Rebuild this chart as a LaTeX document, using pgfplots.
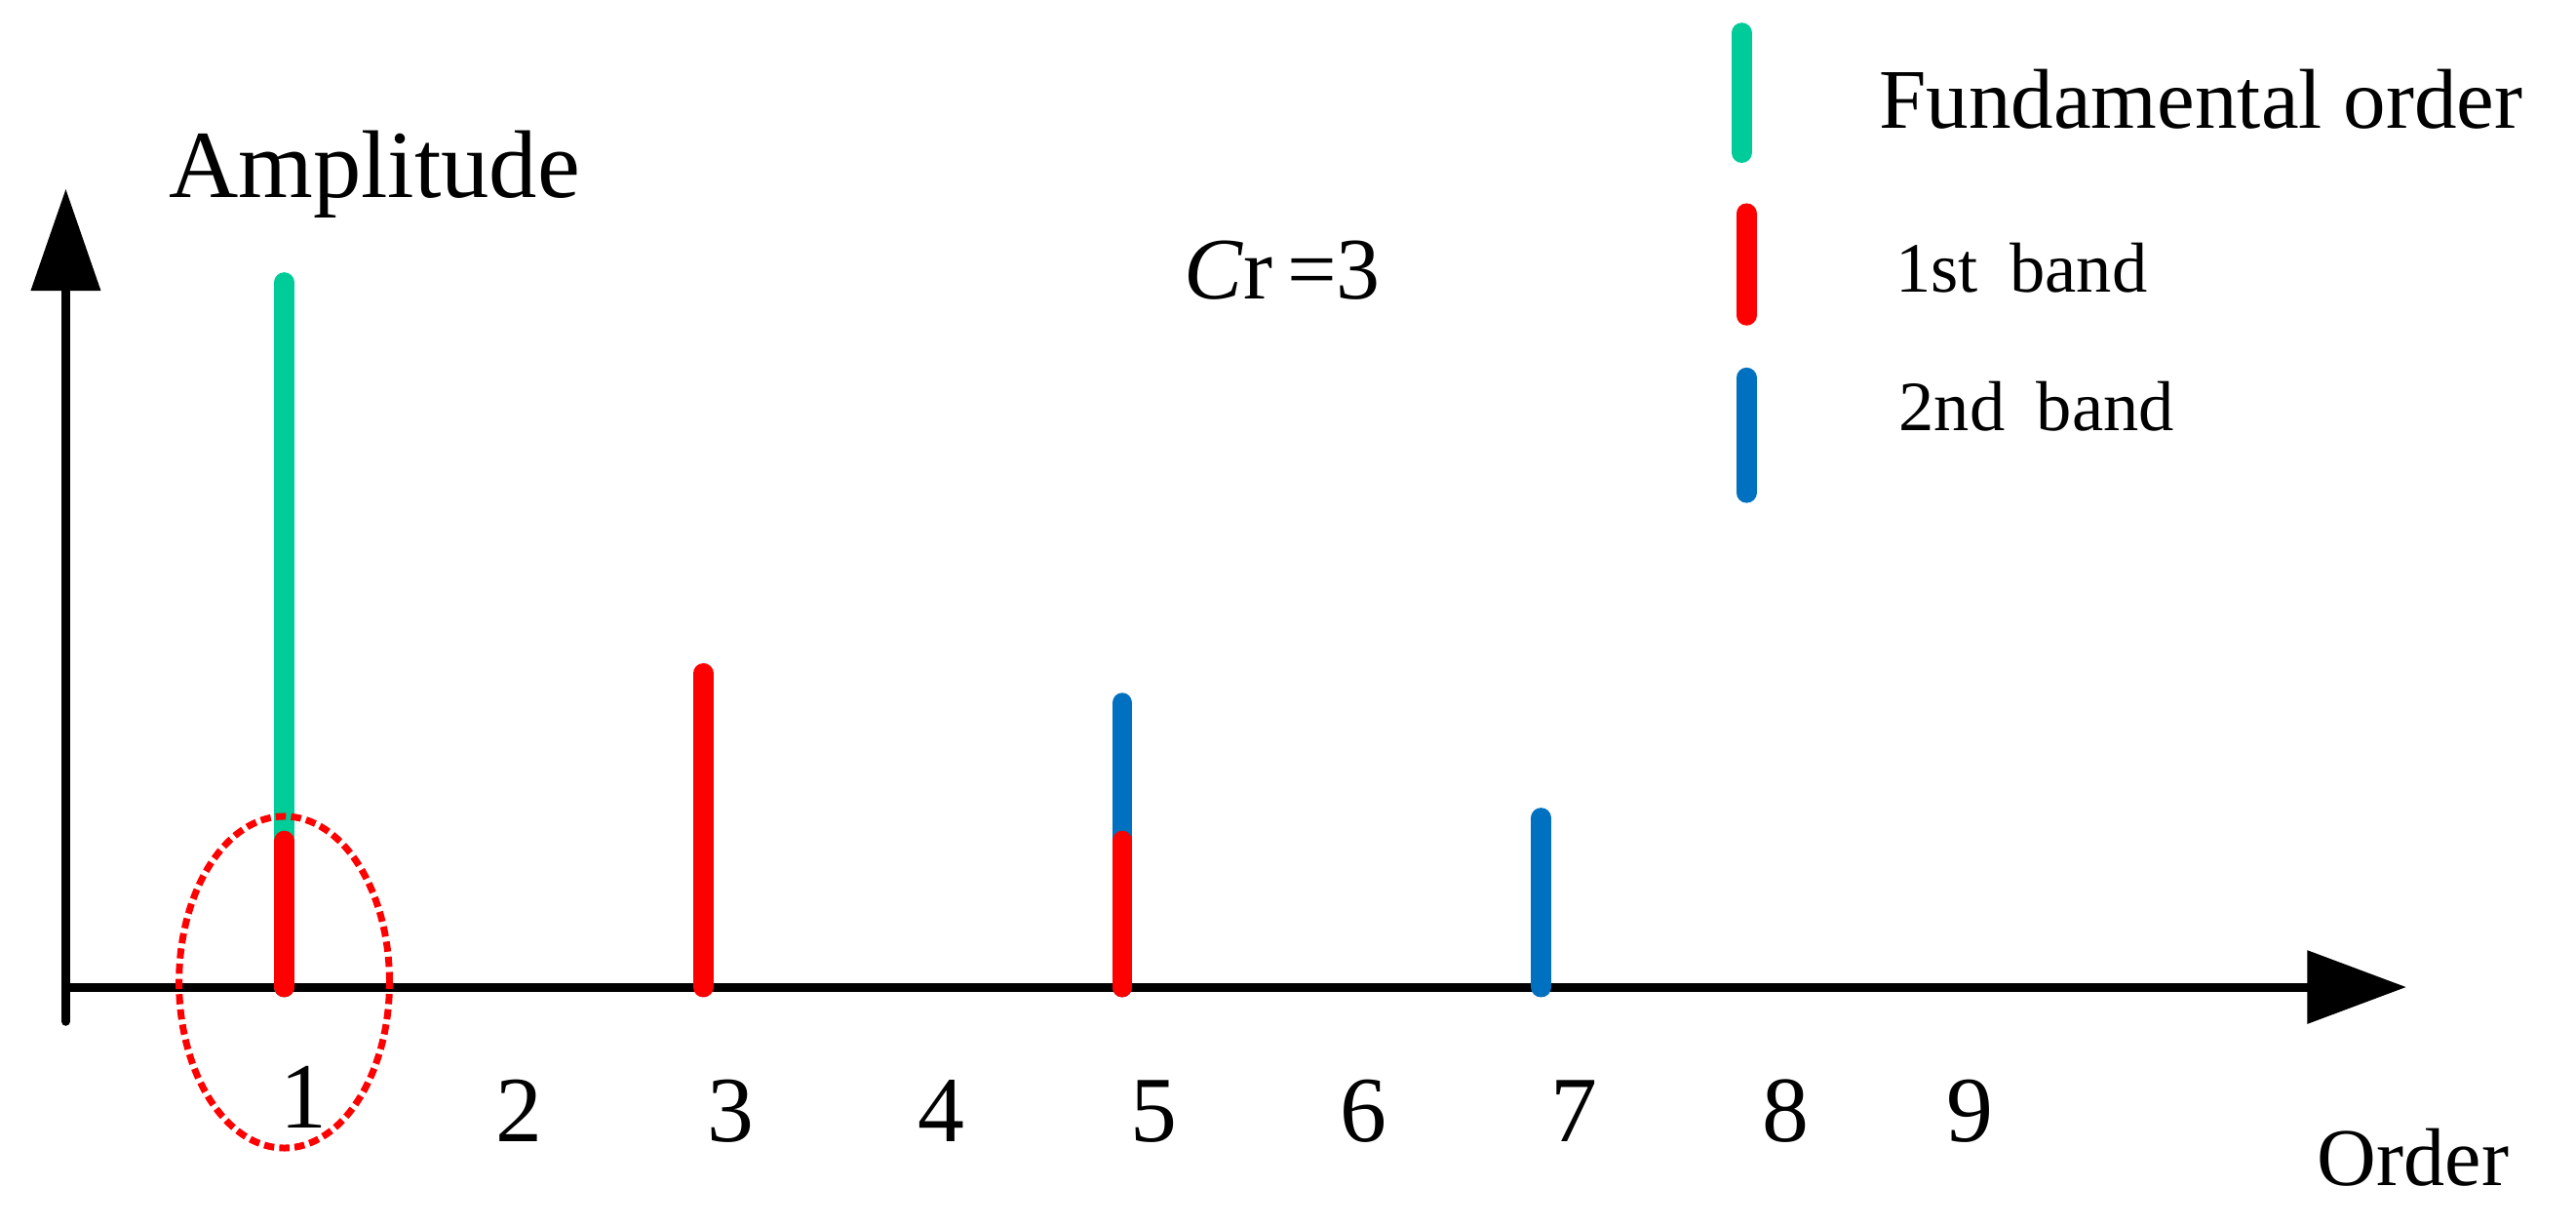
\documentclass[border=0pt]{standalone}
\usepackage{pgfplots}
\pgfplotsset{compat=1.18}
\usepackage{fontspec}
\setmainfont{Liberation Serif}
\usetikzlibrary{arrows.meta}

\definecolor{fundgreen}{RGB}{0,204,153}
\definecolor{bandred}{RGB}{255,0,0}
\definecolor{bandblue}{RGB}{0,112,192}
\tikzset{numlab/.style={anchor=base, inner sep=0pt, font=\fontsize{16.5}{19}\selectfont}}

\begin{document}
\begin{tikzpicture}
\begin{axis}[
  width=16cm, height=7.618cm, scale only axis,
  xmin=-0.357, xmax=11.94, ymin=-1.46, ymax=6.01,
  hide axis, clip=false,
  stem/.style={ycomb, no marks, line width=3.6pt, line cap=round},
  legbar/.style={sharp plot, no marks, line width=3.6pt, line cap=round},
]
\path (rel axis cs:0,0) rectangle (rel axis cs:1,1);

% axes with arrows
\draw[line width=1.55pt, -{Triangle[length=17.5pt,width=12.6pt]}]
  (axis cs:-0.043,0) -- (axis cs:11.13,0);
\draw[line width=1.5pt, line cap=round, -{Triangle[length=18pt,width=12pt]}]
  (axis cs:-0.043,-0.21) -- (axis cs:-0.043,4.86);

% spectrum lines
\addplot[stem, fundgreen] coordinates {(1,4.29)};
\addplot[stem, bandblue] coordinates {(5,1.73) (7,1.03)};
\addplot[stem, bandred] coordinates {(1,0.89) (3,1.91) (5,0.89)};

% highlight
\draw[bandred, line width=1.2pt, dash pattern=on 1.8pt off 0.9pt]
  (axis cs:1,0.03) ellipse [x radius=18.6pt, y radius=29.3pt];

% legend
\addplot[legbar, fundgreen] coordinates {(7.957,5.08) (7.957,5.81)};
\addplot[legbar, bandred] coordinates {(7.98,4.09) (7.98,4.71)};
\addplot[legbar, bandblue] coordinates {(7.98,3.01) (7.98,3.71)};
\node[anchor=base west, inner sep=0pt, font=\fontsize{15}{18}\selectfont] at (axis cs:8.608,5.23) {Fundamental order};
\node[anchor=base west, inner sep=0pt, font=\fontsize{12.5}{15}\selectfont] at (axis cs:8.686,4.23) {1st\hspace{0.45em}band};
\node[anchor=base west, inner sep=0pt, font=\fontsize{12.5}{15}\selectfont] at (axis cs:8.702,3.39) {2nd\hspace{0.45em}band};

% labels
\node[anchor=base west, inner sep=0pt, font=\fontsize{17}{20}\selectfont] at (axis cs:0.443,4.81) {Amplitude};
\node[anchor=base west, inner sep=0pt, font=\fontsize{15.5}{18}\selectfont] at (axis cs:5.29,4.19) {\textit{C}r\,=3};
\node[anchor=base west, inner sep=0pt, font=\fontsize{14.5}{17}\selectfont] at (axis cs:10.7,-1.21) {Order};

% order numbers
\node[numlab] at (axis cs:1.094,-0.86) {1};
\node[numlab] at (axis cs:2.122,-0.94) {2};
\node[numlab] at (axis cs:3.133,-0.94) {3};
\node[numlab] at (axis cs:4.137,-0.94) {4};
\node[numlab] at (axis cs:5.149,-0.94) {5};
\node[numlab] at (axis cs:6.153,-0.94) {6};
\node[numlab] at (axis cs:7.157,-0.94) {7};
\node[numlab] at (axis cs:8.169,-0.94) {8};
\node[numlab] at (axis cs:9.047,-0.94) {9};
\end{axis}
\end{tikzpicture}
\end{document}
